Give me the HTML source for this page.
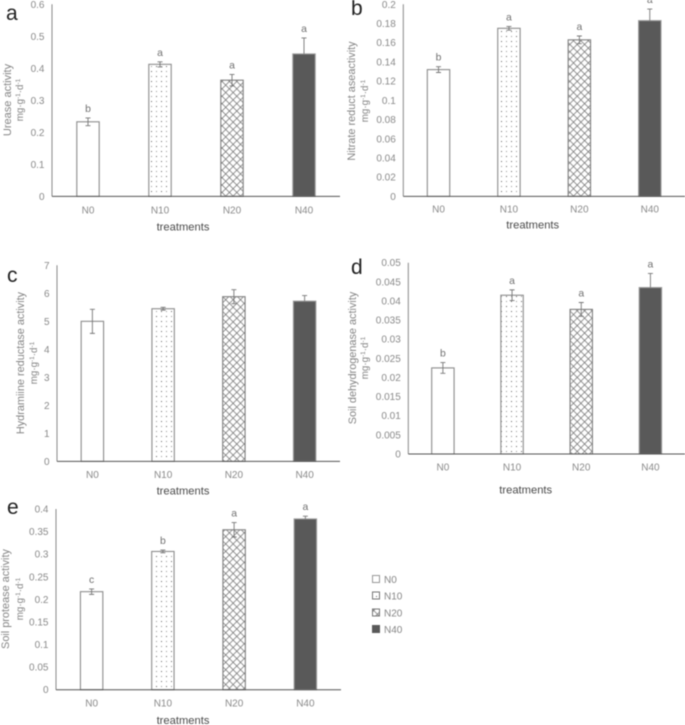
<!DOCTYPE html>
<html lang="en">
<head>
<meta charset="utf-8">
<title>Soil enzyme activity by treatment</title>
<style>
html,body{margin:0;padding:0;background:#fff;width:685px;height:725px;overflow:hidden}
svg{display:block;filter:blur(0.4px)}
text{font-family:"Liberation Sans",sans-serif}
</style>
</head>
<body>
<svg id="figure" xmlns="http://www.w3.org/2000/svg" width="685" height="725" viewBox="0 0 685 725">
  <defs>
    <pattern id="dots" patternUnits="userSpaceOnUse" width="10" height="10">
      <rect x="1" y="1" width="1" height="1" fill="#666"/>
      <rect x="6" y="6" width="1" height="1" fill="#666"/>
      <rect x="6" y="1" width="1" height="1" fill="#999"/>
      <rect x="1" y="6" width="1" height="1" fill="#999"/>
    </pattern>
    <pattern id="cross" patternUnits="userSpaceOnUse" width="7.4" height="7.4">
      <path d="M0 0L7.4 7.4M7.4 0L0 7.4" stroke="#707070" stroke-width="0.75" fill="none"/>
    </pattern>
  </defs>
  <g id="legend">
    <g>
      <rect x="372.5" y="575.5" width="7" height="7" fill="#fff" stroke="#999"/>
      <text x="384" y="583" font-size="10" fill="#858585">N0</text>
    </g>
    <g>
      <rect x="372.5" y="592" width="7" height="7" fill="url(#dots)" stroke="#777"/>
      <text x="384" y="599.5" font-size="10" fill="#858585">N10</text>
    </g>
    <g>
      <rect x="372.5" y="609" width="7" height="7" fill="url(#cross)" stroke="#777"/>
      <text x="384" y="616.5" font-size="10" fill="#858585">N20</text>
    </g>
    <g>
      <rect x="372" y="625" width="8" height="8" fill="#595959"/>
      <text x="384" y="633" font-size="10" fill="#858585">N40</text>
    </g>
  </g>
</svg>
<script>
const categories = ['N0', 'N10', 'N20', 'N40'];

const ureaseTicks = ['0', '0.1', '0.2', '0.3', '0.4', '0.5', '0.6'];
const ureaseValues = [0.233, 0.4125, 0.363, 0.445];
const ureaseErrors = [0.012, 0.008, 0.018, 0.05];
const ureaseLetters = ['b', 'a', 'a', 'a'];

const nitrateTicks = ['0', '0.02', '0.04', '0.06', '0.08', '0.1', '0.12', '0.14', '0.16', '0.18', '0.2'];
const nitrateValues = [0.132, 0.175, 0.163, 0.183];
const nitrateErrors = [0.003, 0.002, 0.004, 0.012];
const nitrateLetters = ['b', 'a', 'a', 'a'];

const hydramineTicks = ['0', '1', '2', '3', '4', '5', '6', '7'];
const hydramineValues = [5.0, 5.45, 5.88, 5.72];
const hydramineErrors = [0.43, 0.05, 0.25, 0.2];
const hydramineLetters = ['', '', '', ''];

const dehydrogenaseTicks = ['0', '0.005', '0.01', '0.015', '0.02', '0.025', '0.03', '0.035', '0.04', '0.045', '0.05'];
const dehydrogenaseValues = [0.0225, 0.0415, 0.0378, 0.0435];
const dehydrogenaseErrors = [0.0014, 0.0014, 0.0018, 0.0037];
const dehydrogenaseLetters = ['b', 'a', 'a', 'a'];

const proteaseTicks = ['0', '0.05', '0.1', '0.15', '0.2', '0.25', '0.3', '0.35', '0.4'];
const proteaseValues = [0.217, 0.306, 0.354, 0.378];
const proteaseErrors = [0.006, 0.003, 0.016, 0.006];
const proteaseLetters = ['c', 'b', 'a', 'a'];

const SVGNS = 'http://www.w3.org/2000/svg';
const figure = document.getElementById('figure');
const barFills = ['#ffffff', 'url(#dots)', 'url(#cross)', '#595959'];
const barStrokes = ['#8c8c8c', '#8c8c8c', '#808080', '#9a9a9a'];

function make(tag, parent, attrs) {
  const el = document.createElementNS(SVGNS, tag);
  for (const k in attrs) el.setAttribute(k, attrs[k]);
  parent.appendChild(el);
  return el;
}

function drawChart(panel) {
  const g = make('g', figure, {});
  
  

  const maxTick = Math.max(...panel.ticks.map(parseFloat));
  const yScale = v => panel.bottom - (v / maxTick) * (panel.bottom - panel.top);
  const band = (panel.right - panel.left) / panel.categories.length;
  const xScale = i => panel.left + band * (i + 0.5);
  const barWidth = 22.4;

  panel.ticks.forEach(t => {
    const label = make('text', g, {x: panel.left - 7.5, y: yScale(parseFloat(t)) + 3.5, 'font-size': 10, fill: '#8a8a8a', 'text-anchor': 'end'});
    
    
    label.textContent = t;
  });

  panel.categories.forEach((c, i) => {
    const x = xScale(i);
    const y = yScale(panel.values[i]);

    const bar = make('rect', g, {x: x - barWidth / 2, y: y, width: barWidth, height: panel.bottom - y, fill: barFills[i], stroke: barStrokes[i], 'stroke-width': 1.1});
    
    

    const hi = yScale(panel.values[i] + panel.errors[i]);
    const lo = yScale(panel.values[i] - panel.errors[i]);
    const capL = x - 2.5;
    const capR = x + 2.5;
    const upper = 'M' + capL + ' ' + hi + 'H' + capR + 'M' + x + ' ' + hi + 'V' + y;
    const lower = 'M' + x + ' ' + y + 'V' + lo + 'M' + capL + ' ' + lo + 'H' + capR;
    const err = make('path', g, {d: barFills[i] === '#595959' ? upper : upper + lower, stroke: '#777', 'stroke-width': 0.9, fill: 'none'});
    
    

    if (panel.letters[i]) {
      const letter = make('text', g, {x: x, y: hi - 6, 'font-size': 10.4, fill: '#707070', 'text-anchor': 'middle'});
      
      
      letter.textContent = panel.letters[i];
    }

    const catLabel = make('text', g, {x: x, y: panel.catY, 'font-size': 10, fill: '#8a8a8a', 'text-anchor': 'middle'});
    
    
    catLabel.textContent = c;
  });

  const yAxis = make('line', g, {x1: panel.left, x2: panel.left, y1: panel.top, y2: panel.bottom, stroke: '#8a8a8a', 'stroke-width': 1});
  
  

  const xAxis = make('line', g, {x1: panel.left, x2: panel.right, y1: panel.bottom, y2: panel.bottom, stroke: '#555', 'stroke-width': 1});
  
  

  const xTitle = make('text', g, {x: panel.xTitleX, y: panel.xTitleY, 'font-size': 11.2, fill: '#4a4a4a', 'text-anchor': 'middle'});
  
  
  xTitle.textContent = 'treatments';

  const yTitle = make('text', g, {transform: 'translate(' + panel.yTitleX + ' ' + panel.yMid + ') rotate(-90)', 'font-size': panel.yTitleSize, fill: '#858585', 'text-anchor': 'middle'});
  
  
  yTitle.textContent = panel.yTitle;

  const unit = make('text', g, {transform: 'translate(' + panel.unitX + ' ' + panel.yMid + ') rotate(-90)', 'font-size': 9.8, fill: '#858585', 'text-anchor': 'middle'});
  
  
  [['mg·g', 0, 9.8], ['-1', -3, 6.5], ['·d', 3, 9.8], ['-1', -3, 6.5]].forEach(part => {
    const s = make('tspan', unit, {dy: part[1], 'font-size': part[2]});
    s.textContent = part[0];
  });

  const tag = make('text', g, {x: panel.tagX, y: panel.tagY, 'font-size': 21, fill: '#222'});
  
  
  tag.textContent = panel.id;
}

drawChart({id: 'a', categories: categories, ticks: ureaseTicks, values: ureaseValues, errors: ureaseErrors, letters: ureaseLetters,
  left: 52, right: 340, top: 4.3, bottom: 196.4, catY: 213.7, xTitleX: 183, xTitleY: 230.7,
  yTitle: 'Urease activity', yTitleSize: 11, yTitleX: 11, unitX: 23, yMid: 100, tagX: 6, tagY: 20});

drawChart({id: 'b', categories: categories, ticks: nitrateTicks, values: nitrateValues, errors: nitrateErrors, letters: nitrateLetters,
  left: 403.3, right: 685, top: 4.3, bottom: 196.4, catY: 212.7, xTitleX: 532.7, xTitleY: 228.7,
  yTitle: 'Nitrate reduct aseactivity', yTitleSize: 10.9, yTitleX: 355, unitX: 368, yMid: 101, tagX: 351, tagY: 15});

drawChart({id: 'c', categories: categories, ticks: hydramineTicks, values: hydramineValues, errors: hydramineErrors, letters: hydramineLetters,
  left: 57, right: 340, top: 265.3, bottom: 461.4, catY: 478, xTitleX: 183, xTitleY: 494.3,
  yTitle: 'Hydramiine reductase activity', yTitleSize: 10.9, yTitleX: 24, unitX: 37, yMid: 363, tagX: 7, tagY: 282});

drawChart({id: 'd', categories: categories, ticks: dehydrogenaseTicks, values: dehydrogenaseValues, errors: dehydrogenaseErrors, letters: dehydrogenaseLetters,
  left: 408.3, right: 685, top: 262.7, bottom: 454, catY: 470.7, xTitleX: 525.7, xTitleY: 493.3,
  yTitle: 'Soil dehydrogenase activity', yTitleSize: 10.9, yTitleX: 356, unitX: 368, yMid: 358, tagX: 351, tagY: 274});

drawChart({id: 'e', categories: categories, ticks: proteaseTicks, values: proteaseValues, errors: proteaseErrors, letters: proteaseLetters,
  left: 56, right: 341, top: 509, bottom: 689.7, catY: 706.7, xTitleX: 183, xTitleY: 724,
  yTitle: 'Soil protease activity', yTitleSize: 10.9, yTitleX: 9, unitX: 23, yMid: 599, tagX: 7, tagY: 514});
</script>
</body>
</html>
